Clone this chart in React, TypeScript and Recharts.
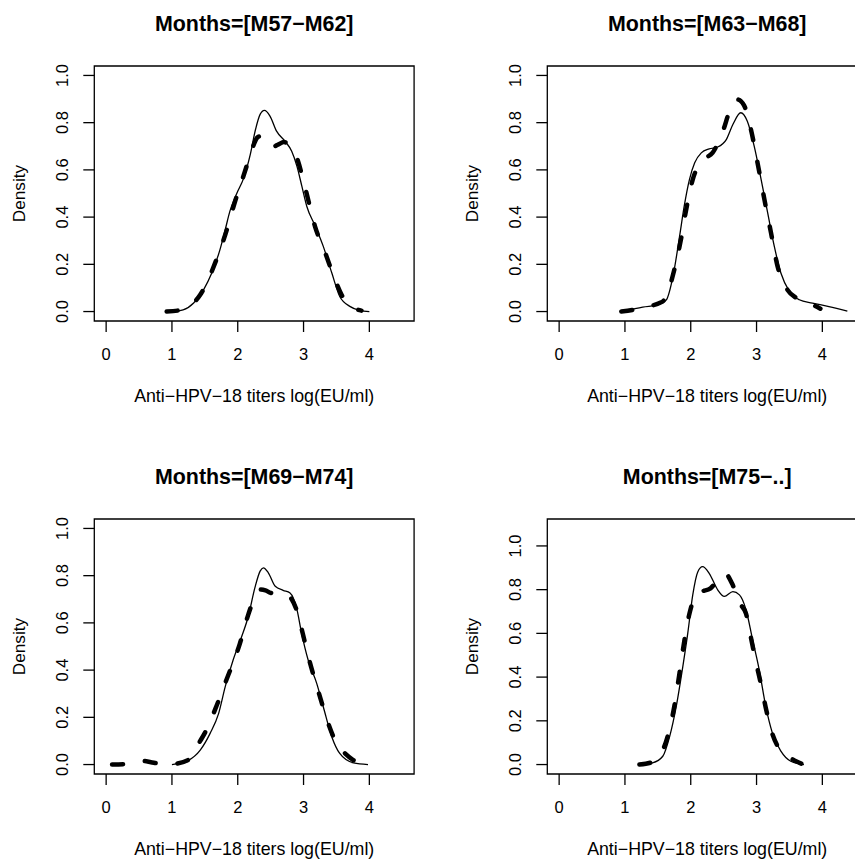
import React from 'react';
import { LineChart, Line, XAxis, YAxis, ReferenceArea } from 'recharts';

// axis settings (R style: limits padded by 4%)
const xLim = [0, 4.5];
const xTicks = [0, 1, 2, 3, 4];
const yTicks = [0, 0.2, 0.4, 0.6, 0.8, 1.0];

const titles = ['Months=[M57−M62]', 'Months=[M63−M68]', 'Months=[M69−M74]', 'Months=[M75−..]'];
const yMaxes = [1, 1, 1, 1.08];
const xLabel = 'Anti−HPV−18 titers log(EU/ml)';
const yLabel = 'Density';

// density curves, [x, density]
const p1Solid = [
  [1.0, 0], [1.17, 0.007], [1.33, 0.036], [1.48, 0.092], [1.605, 0.163], [1.73, 0.262],
  [1.81, 0.347], [1.88, 0.424], [1.985, 0.5], [2.09, 0.565], [2.19, 0.665], [2.27, 0.771],
  [2.34, 0.835], [2.405, 0.852], [2.49, 0.828], [2.59, 0.764], [2.72, 0.721], [2.82, 0.679],
  [2.9, 0.615], [2.975, 0.53], [3.05, 0.445], [3.18, 0.361], [3.3, 0.276], [3.43, 0.163],
  [3.55, 0.064], [3.71, 0.021], [3.85, 0.005], [4.0, 0],
];
const p1Dash = [
  [0.92, 0], [1.13, 0.006], [1.3, 0.03], [1.43, 0.071], [1.56, 0.14], [1.655, 0.205],
  [1.81, 0.325], [1.96, 0.467], [2.11, 0.594], [2.22, 0.69], [2.3, 0.738], [2.37, 0.745],
  [2.45, 0.72], [2.53, 0.698], [2.62, 0.708], [2.7, 0.718], [2.8, 0.7], [2.9, 0.65],
  [3.02, 0.53], [3.175, 0.36], [3.33, 0.248], [3.48, 0.134], [3.58, 0.07], [3.66, 0.036],
  [3.77, 0.014], [3.88, 0.004],
];
const p2Solid = [
  [0.99, 0.001], [1.27, 0.019], [1.5, 0.028], [1.63, 0.05], [1.73, 0.149], [1.83, 0.318],
  [1.9, 0.445], [1.98, 0.559], [2.06, 0.63], [2.16, 0.672], [2.28, 0.689], [2.41, 0.697],
  [2.54, 0.728], [2.64, 0.792], [2.76, 0.842], [2.86, 0.806], [2.965, 0.7], [3.07, 0.559],
  [3.17, 0.417], [3.27, 0.276], [3.37, 0.163], [3.5, 0.085], [3.65, 0.05], [3.85, 0.036],
  [4.1, 0.021], [4.38, 0.002],
];
const p2Dash = [
  [0.945, 0], [1.12, 0.007], [1.3, 0.02], [1.525, 0.036], [1.6, 0.05], [1.75, 0.177],
  [1.855, 0.311], [1.93, 0.431], [2.03, 0.559], [2.12, 0.62], [2.23, 0.651], [2.33, 0.672],
  [2.48, 0.757], [2.61, 0.863], [2.71, 0.898], [2.81, 0.873], [2.915, 0.771], [3.015, 0.63],
  [3.12, 0.474], [3.22, 0.333], [3.32, 0.191], [3.47, 0.092], [3.62, 0.055], [3.8, 0.036],
  [3.97, 0.012],
];
const p3Solid = [
  [1.0, 0], [1.25, 0.018], [1.43, 0.061], [1.58, 0.132], [1.71, 0.217], [1.81, 0.33],
  [1.93, 0.443], [2.06, 0.542], [2.16, 0.627], [2.26, 0.748], [2.34, 0.819], [2.39, 0.833],
  [2.465, 0.812], [2.57, 0.755], [2.69, 0.738], [2.795, 0.727], [2.9, 0.656], [2.97, 0.557],
  [3.07, 0.443], [3.2, 0.344], [3.3, 0.245], [3.43, 0.117], [3.55, 0.047], [3.76, 0.007],
  [3.98, 0],
];
const p3Dash = [
  [0.09, 0], [0.3, 0.002], [0.45, 0.01], [0.57, 0.015], [0.68, 0.01], [0.8, 0.004],
  [0.95, 0.001], [1.05, 0.003], [1.25, 0.02], [1.43, 0.1], [1.53, 0.15], [1.68, 0.25],
  [1.83, 0.36], [2.03, 0.51], [2.16, 0.635], [2.26, 0.71], [2.35, 0.741], [2.42, 0.738],
  [2.5, 0.727], [2.62, 0.722], [2.74, 0.72], [2.82, 0.7], [2.9, 0.65], [2.975, 0.57],
  [3.075, 0.455], [3.225, 0.31], [3.375, 0.175], [3.52, 0.08], [3.62, 0.05], [3.75, 0.02],
  [3.9, 0.003], [4.04, 0],
];
const p4Solid = [
  [1.22, 0], [1.42, 0.008], [1.575, 0.038], [1.68, 0.129], [1.78, 0.266], [1.88, 0.449],
  [1.955, 0.601], [2.03, 0.775], [2.105, 0.88], [2.18, 0.905], [2.28, 0.875], [2.41, 0.799],
  [2.51, 0.769], [2.64, 0.791], [2.74, 0.776], [2.84, 0.708], [2.94, 0.571], [3.04, 0.434],
  [3.14, 0.266], [3.24, 0.145], [3.37, 0.061], [3.52, 0.015], [3.72, 0],
];
const p4Dash = [
  [1.22, 0], [1.42, 0.012], [1.55, 0.05], [1.64, 0.12], [1.75, 0.266], [1.83, 0.42],
  [1.905, 0.57], [1.98, 0.69], [2.05, 0.76], [2.12, 0.79], [2.2, 0.795], [2.3, 0.806],
  [2.4, 0.84], [2.52, 0.874], [2.64, 0.82], [2.74, 0.74], [2.84, 0.69], [2.915, 0.58],
  [2.99, 0.47], [3.065, 0.37], [3.14, 0.26], [3.23, 0.15], [3.35, 0.07], [3.47, 0.04],
  [3.6, 0.015], [3.68, 0.004],
];

const solids = [p1Solid, p2Solid, p3Solid, p4Solid];
const dashes = [p1Dash, p2Dash, p3Dash, p4Dash];

const FONT = '"Liberation Sans", Arial, Helvetica, sans-serif';
const PANEL = 453.4;
const BOX = { left: 94.3, top: 66, right: 414.1, bottom: 321 };
const TICK = 11;
const toPoints = (arr: number[][]) => arr.map(([x, y]) => ({ x, y }));
const pad = (lo: number, hi: number) => [lo - 0.04 * (hi - lo), hi + 0.04 * (hi - lo)];

const XTick = (props: any) => {
  const { x, y, payload } = props;
  return (
    <text x={x} y={y + 28} textAnchor="middle" fontFamily={FONT} fontSize={16.5} fill="#000">
      {payload.value}
    </text>
  );
};

const YTick = (props: any) => {
  const { x, y, payload } = props;
  return (
    <text
      transform={`translate(${x - 15},${y}) rotate(-90)`}
      textAnchor="middle"
      fontFamily={FONT}
      fontSize={16.5}
      fill="#000"
    >
      {Number(payload.value).toFixed(1)}
    </text>
  );
};

function Panel({ left, top, idx }: { left: number; top: number; idx: number }) {
  const xDom = pad(xLim[0], xLim[1]);
  const yDom = pad(0, yMaxes[idx]);
  const cx = (BOX.left + BOX.right) / 2;
  const cy = (BOX.top + BOX.bottom) / 2;
  return (
    <div style={{ position: 'absolute', left, top, width: PANEL, height: PANEL }}>
      <LineChart
        width={PANEL}
        height={PANEL}
        margin={{ top: BOX.top, left: BOX.left - 40, right: PANEL - BOX.right, bottom: PANEL - BOX.bottom - 30 }}
      >
        <XAxis
          type="number"
          dataKey="x"
          domain={xDom}
          allowDataOverflow
          ticks={xTicks}
          interval={0}
          height={30}
          axisLine={false}
          tickSize={TICK}
          tickMargin={0}
          tickLine={{ stroke: '#000', strokeWidth: 1.3 }}
          tick={XTick}
        />
        <YAxis
          type="number"
          dataKey="y"
          domain={yDom}
          allowDataOverflow
          ticks={yTicks}
          interval={0}
          width={40}
          axisLine={false}
          tickSize={TICK}
          tickMargin={0}
          tickLine={{ stroke: '#000', strokeWidth: 1.3 }}
          tick={YTick}
        />
        <ReferenceArea
          x1={xDom[0]}
          x2={xDom[1]}
          y1={yDom[0]}
          y2={yDom[1]}
          fill="none"
          fillOpacity={0}
          stroke="#000"
          strokeWidth={1.3}
          ifOverflow="visible"
        />
        <Line
          data={toPoints(solids[idx])}
          dataKey="y"
          type="monotone"
          stroke="#000"
          strokeWidth={1.3}
          dot={false}
          activeDot={false}
          isAnimationActive={false}
        />
        <Line
          data={toPoints(dashes[idx])}
          dataKey="y"
          type="monotone"
          stroke="#000"
          strokeWidth={4.5}
          strokeDasharray="11 22"
          strokeLinecap="round"
          dot={false}
          activeDot={false}
          isAnimationActive={false}
        />
      </LineChart>
      <svg
        width={PANEL}
        height={PANEL}
        style={{ position: 'absolute', left: 0, top: 0, pointerEvents: 'none' }}
      >
        <text x={cx} y={31} textAnchor="middle" fontFamily={FONT} fontWeight="bold" fontSize={21.4} fill="#000">
          {titles[idx]}
        </text>
        <text x={cx} y={402} textAnchor="middle" fontFamily={FONT} fontSize={17.8} fill="#000">
          {xLabel}
        </text>
        <text
          transform={`translate(25,${cy}) rotate(-90)`}
          textAnchor="middle"
          fontFamily={FONT}
          fontSize={17.2}
          fill="#000"
        >
          {yLabel}
        </text>
      </svg>
    </div>
  );
}

export default function App() {
  return (
    <div
      style={{
        position: 'absolute',
        left: 0,
        top: 0,
        width: 855,
        height: 861,
        overflow: 'hidden',
        background: '#fff',
      }}
    >
      <Panel left={0} top={0} idx={0} />
      <Panel left={PANEL} top={0} idx={1} />
      <Panel left={0} top={453} idx={2} />
      <Panel left={PANEL} top={453} idx={3} />
    </div>
  );
}
